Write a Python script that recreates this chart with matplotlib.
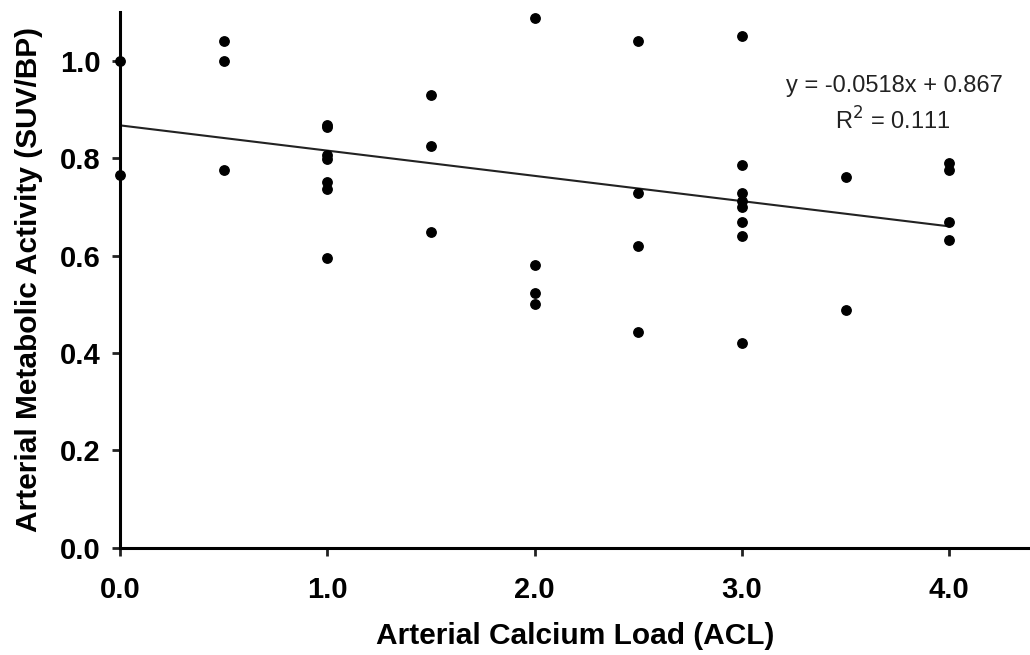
import matplotlib
matplotlib.use("Agg")
import matplotlib.pyplot as plt

# Arterial calcium load (x) vs arterial metabolic activity (y)
acl = [0.0, 0.0,
       0.5, 0.5, 0.5,
       1.0, 1.0, 1.0, 1.0, 1.0, 1.0, 1.0,
       1.5, 1.5, 1.5,
       2.0, 2.0, 2.0, 2.0,
       2.5, 2.5, 2.5, 2.5,
       3.0, 3.0, 3.0, 3.0, 3.0, 3.0, 3.0, 3.0,
       3.5, 3.5,
       4.0, 4.0, 4.0, 4.0]
activity = [1.000, 0.765,
            1.041, 1.000, 0.776,
            0.867, 0.863, 0.807, 0.798, 0.750, 0.737, 0.595,
            0.929, 0.825, 0.648,
            1.088, 0.580, 0.523, 0.501,
            1.041, 0.729, 0.620, 0.444,
            1.050, 0.786, 0.728, 0.711, 0.700, 0.669, 0.641, 0.420,
            0.761, 0.488,
            0.790, 0.775, 0.669, 0.632]

slope = -0.0518
intercept = 0.867
r2 = 0.111
xticks = [0.0, 1.0, 2.0, 3.0, 4.0]
yticks = [0.0, 0.2, 0.4, 0.6, 0.8, 1.0]

plt.rcParams['font.family'] = ['Liberation Sans', 'DejaVu Sans']

fig = plt.figure(figsize=(10.30, 6.55), dpi=100)
ax = fig.add_axes([0.1165, 0.1634, 0.8835, 0.8186])

ax.scatter(acl, activity, s=46, color='black', zorder=3, clip_on=False)

# trend line
fit_x = [0.0, 4.0]
fit_y = [intercept + slope * v for v in fit_x]
ax.plot(fit_x, fit_y, color='#222222', linewidth=1.5, zorder=2)

ax.text(3.735, 0.947, f"y = {slope}x + {intercept}", fontsize=17,
        ha='center', va='center', color='#222222')
ax.text(3.73, 0.876, f"R$^2$ = {r2}", fontsize=17,
        ha='center', va='center', color='#222222')

ax.set_xlim(0, 4.39)
ax.set_ylim(0, 1.10)
ax.set_xticks(xticks)
ax.set_xticklabels([f"{v:.1f}" for v in xticks])
ax.set_yticks(yticks)
ax.set_yticklabels([f"{v:.1f}" for v in yticks])

for lbl in ax.get_xticklabels() + ax.get_yticklabels():
    lbl.set_fontweight('bold')
    lbl.set_fontsize(21)

ax.tick_params(direction='out', length=6, width=2, color='#222222')
ax.tick_params(axis='x', pad=14)
ax.tick_params(axis='y', pad=8)
ax.spines['top'].set_visible(False)
ax.spines['right'].set_visible(False)
ax.spines['left'].set_linewidth(2.2)
ax.spines['bottom'].set_linewidth(2.2)

ax.set_xlabel('Arterial Calcium Load (ACL)', fontsize=21.5, fontweight='bold', labelpad=13)
ax.set_ylabel('Arterial Metabolic Activity (SUV/BP)', fontsize=21.5, fontweight='bold', labelpad=12)

fig.savefig('out.png', dpi=100)
